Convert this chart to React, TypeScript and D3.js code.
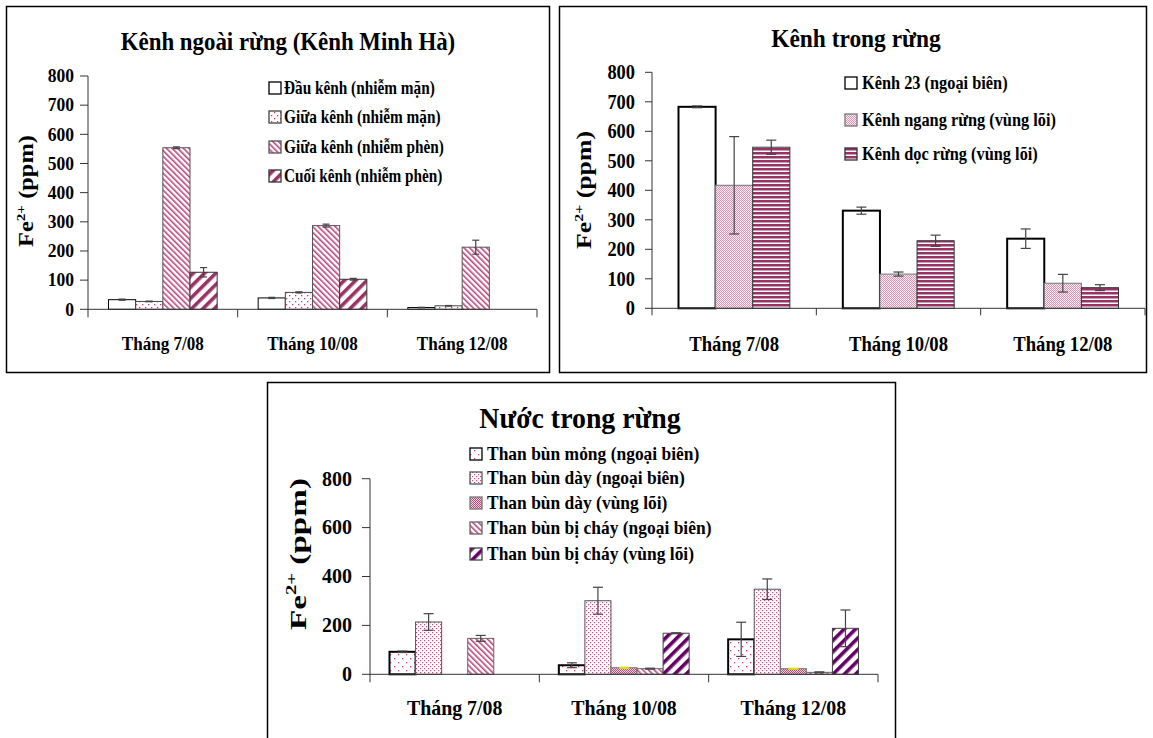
import React from "react";
import * as d3 from "d3";

const months = ["Tháng 7/08", "Tháng 10/08", "Tháng 12/08"];

// Kênh ngoài rừng (Kênh Minh Hà)
const ngoaiNames = [
  "Đầu kênh (nhiễm mặn)",
  "Giữa kênh (nhiễm mặn)",
  "Giữa kênh (nhiễm phèn)",
  "Cuối kênh (nhiễm phèn)",
];
const dauKenh = [33, 39, 6];
const dauKenhErr = [2, 2, 1];
const giuaKenhMan = [27, 58, 12];
const giuaKenhManErr = [1, 2, 1];
const giuaKenhPhen = [554, 287, 213];
const giuaKenhPhenErr = [3, 5, 24];
const cuoiKenh = [127, 103, null];
const cuoiKenhErr = [16, 3, 0];

// Kênh trong rừng
const trongNames = ["Kênh 23 (ngoại biên)", "Kênh ngang rừng (vùng lõi)", "Kênh dọc rừng (vùng lõi)"];
const kenh23 = [683, 331, 236];
const kenh23Err = [3, 12, 33];
const kenhNgang = [417, 116, 85];
const kenhNgangErr = [165, 7, 30];
const kenhDoc = [546, 229, 70];
const kenhDocErr = [24, 19, 10];

// Nước trong rừng
const nuocNames = [
  "Than bùn mỏng (ngoại biên)",
  "Than bùn dày (ngoại biên)",
  "Than bùn dày (vùng lõi)",
  "Than bùn bị cháy (ngoại biên)",
  "Than bùn bị cháy (vùng lõi)",
];
const bunMong = [92, 37, 143];
const bunMongErr = [3, 10, 70];
const bunDayNgoai = [214, 301, 348];
const bunDayNgoaiErr = [34, 55, 42];
const bunDayLoi = [null, 27, 23];
const bunDayLoiErr = [0, 2, 2];
const bunChayNgoai = [147, 23, 8];
const bunChayNgoaiErr = [12, 2, 2];
const bunChayLoi = [null, 168, 188];
const bunChayLoiErr = [0, 2, 75];

const FONT = "'Liberation Serif', 'Times New Roman', serif";

const panels = [
  {
    title: "Kênh ngoài rừng (Kênh Minh Hà)",
    box: [6.5, 6.5, 549.5, 372.5],
    L: {
      x0: 88, x1: 537, y0: 309.3, y1: 76, max: 800, nt: 8, pad: 20.5,
      tick: 8, lblGap: 6, tickFs: 18.5, tickSx: 0.95, catFs: 19, catSx: 0.9, catY: 350,
      titleX: 288, titleY: 50, titleFs: 26, titleSx: 0.88,
      legX: 269, legBox: 12, legTextX: 284, legRows: [88, 117, 147, 176], legFs: 18, legSx: 0.85,
      ylx: 33, yly: 191, ylFs: 20, ylLen: 112, cap: 3.5,
    },
    series: [
      { name: ngoaiNames[0], v: dauKenh, e: dauKenhErr, fill: "#fff", stroke: "#000", sw: 1 },
      { name: ngoaiNames[1], v: giuaKenhMan, e: giuaKenhManErr, fill: "url(#dotSparse)", stroke: "#444", sw: 1 },
      { name: ngoaiNames[2], v: giuaKenhPhen, e: giuaKenhPhenErr, fill: "url(#backThin)", stroke: "#555", sw: 1 },
      { name: ngoaiNames[3], v: cuoiKenh, e: cuoiKenhErr, fill: "url(#fwdMaroon)", stroke: "#333", sw: 1 },
    ],
  },
  {
    title: "Kênh trong rừng",
    box: [559.5, 6.5, 1146.5, 372.5],
    L: {
      x0: 652, x1: 1145, y0: 308.3, y1: 72.3, max: 800, nt: 8, pad: 26.5,
      tick: 7, lblGap: 10, tickFs: 20, tickSx: 0.92, catFs: 21, catSx: 0.89, catY: 350.5,
      titleX: 856, titleY: 47, titleFs: 26, titleSx: 0.9,
      legX: 845, legBox: 12, legTextX: 862, legRows: [83, 120, 154], legFs: 19, legSx: 0.86,
      ylx: 591, yly: 190, ylFs: 20, ylLen: 118, cap: 5,
    },
    series: [
      { name: trongNames[0], v: kenh23, e: kenh23Err, fill: "#fff", stroke: "#000", sw: 2 },
      { name: trongNames[1], v: kenhNgang, e: kenhNgangErr, fill: "url(#dotDense)", stroke: "#777", sw: 1 },
      { name: trongNames[2], v: kenhDoc, e: kenhDocErr, fill: "url(#hStripe)", stroke: "#333", sw: 1 },
    ],
  },
  {
    title: "Nước trong rừng",
    box: [267.5, 382.5, 895.5, 745],
    L: {
      x0: 370, x1: 878, y0: 674.3, y1: 478.7, max: 800, nt: 4, pad: 19.5,
      tick: 8, lblGap: 10, tickFs: 20, tickSx: 1, catFs: 20.5, catSx: 0.97, catY: 715,
      titleX: 580, titleY: 428, titleFs: 29, titleSx: 0.96,
      legX: 470, legBox: 12, legTextX: 487, legRows: [454, 478, 503, 528, 554], legFs: 18, legSx: 0.97,
      ylx: 306, yly: 554, ylFs: 24, ylLen: 152, cap: 5,
    },
    series: [
      { name: nuocNames[0], v: bunMong, e: bunMongErr, fill: "url(#dotMong)", stroke: "#000", sw: 2 },
      { name: nuocNames[1], v: bunDayNgoai, e: bunDayNgoaiErr, fill: "url(#dotMed)", stroke: "#555", sw: 1 },
      { name: nuocNames[2], v: bunDayLoi, e: bunDayLoiErr, fill: "url(#checker)", stroke: "#777", sw: 1, ec: "#e6e600" },
      { name: nuocNames[3], v: bunChayNgoai, e: bunChayNgoaiErr, fill: "url(#backThin)", stroke: "#666", sw: 1 },
      { name: nuocNames[4], v: bunChayLoi, e: bunChayLoiErr, fill: "url(#fwdPurple)", stroke: "#444", sw: 1 },
    ],
  },
];

function Txt({ x, y, fs, sx = 1, anchor = "start", ls = 0, children }: any) {
  return (
    <text
      transform={`translate(${x},${y}) scale(${sx},1)`}
      fontSize={fs}
      fontFamily={FONT}
      fontWeight="bold"
      textAnchor={anchor}
      letterSpacing={ls}
      fill="#000"
    >
      {children}
    </text>
  );
}

function Patterns() {
  return (
    <defs>
      <pattern id="dotSparse" width="6" height="6" patternUnits="userSpaceOnUse">
        <rect width="6" height="6" fill="#fff" />
        <rect x="1" y="1" width="1.3" height="1.3" fill="#c8407a" />
        <rect x="4" y="4" width="1.3" height="1.3" fill="#c8407a" />
      </pattern>
      <pattern id="dotMong" width="8" height="8" patternUnits="userSpaceOnUse">
        <rect width="8" height="8" fill="#fff" />
        <rect x="2" y="2" width="1.3" height="1.3" fill="#c8407a" />
        <rect x="6" y="6" width="1.3" height="1.3" fill="#c8407a" />
      </pattern>
      <pattern id="dotMed" width="4" height="4" patternUnits="userSpaceOnUse">
        <rect width="4" height="4" fill="#fff" />
        <rect x="0" y="0" width="1.2" height="1.2" fill="#cc4f86" />
        <rect x="2" y="2" width="1.2" height="1.2" fill="#cc4f86" />
      </pattern>
      <pattern id="dotDense" width="2" height="2" patternUnits="userSpaceOnUse">
        <rect width="2" height="2" fill="#fdf1f6" />
        <rect x="0" y="0" width="1" height="1" fill="#dd94b4" />
        <rect x="1" y="1" width="1" height="1" fill="#dd94b4" />
      </pattern>
      <pattern id="checker" width="2" height="2" patternUnits="userSpaceOnUse">
        <rect width="2" height="2" fill="#f2d3e0" />
        <rect x="0" y="0" width="1" height="1" fill="#b84c7e" />
        <rect x="1" y="1" width="1" height="1" fill="#b84c7e" />
      </pattern>
      <pattern id="backThin" width="4" height="4" patternUnits="userSpaceOnUse" patternTransform="rotate(-45)">
        <rect width="4" height="4" fill="#fff" />
        <rect x="0" y="0" width="1.6" height="4" fill="#b9477f" />
      </pattern>
      <pattern id="fwdMaroon" width="8" height="8" patternUnits="userSpaceOnUse" patternTransform="rotate(45)">
        <rect width="8" height="8" fill="#fff" />
        <rect x="0" y="0" width="3.6" height="8" fill="#993366" />
      </pattern>
      <pattern id="fwdPurple" width="8" height="8" patternUnits="userSpaceOnUse" patternTransform="rotate(45)">
        <rect width="8" height="8" fill="#fff" />
        <rect x="0" y="0" width="3.6" height="8" fill="#660066" />
      </pattern>
      <pattern id="hStripe" width="4" height="4" patternUnits="userSpaceOnUse">
        <rect width="4" height="4" fill="#fff" />
        <rect x="0" y="0" width="4" height="2.5" fill="#993366" />
      </pattern>
    </defs>
  );
}

function BarPanel({ p }: any) {
  const L = p.L;
  const x = d3.scaleBand().domain(months).range([L.x0, L.x1]);
  const inner = d3
    .scaleBand()
    .domain(p.series.map((s: any) => s.name))
    .range([L.pad, x.bandwidth() - L.pad]);
  const y = d3.scaleLinear().domain([0, L.max]).range([L.y0, L.y1]);
  const ticks = y.ticks(L.nt);
  const bounds = months.map((m) => x(m) as number).concat([L.x1]);
  const [bx0, by0, bx1, by1] = p.box;

  return (
    <g>
      <rect x={bx0} y={by0} width={bx1 - bx0} height={by1 - by0} fill="#fff" stroke="#000" strokeWidth={1.5} />
      <Txt x={L.titleX} y={L.titleY} fs={L.titleFs} sx={L.titleSx} anchor="middle">{p.title}</Txt>

      {/* bars */}
      {months.map((m, i) =>
        p.series.map((s: any) => {
          const v = s.v[i];
          if (v == null) return null;
          const bx = (x(m) as number) + (inner(s.name) as number);
          return (
            <rect
              key={m + s.name}
              x={bx}
              y={y(v)}
              width={inner.bandwidth()}
              height={L.y0 - y(v)}
              fill={s.fill}
              stroke={s.stroke}
              strokeWidth={s.sw}
            />
          );
        })
      )}

      {/* error bars */}
      {months.map((m, i) =>
        p.series.map((s: any) => {
          const v = s.v[i];
          const e = s.e[i];
          if (v == null || !e) return null;
          const cx = (x(m) as number) + (inner(s.name) as number) + inner.bandwidth() / 2;
          const col = s.ec || "#444";
          return (
            <g key={"e" + m + s.name} stroke={col} strokeWidth={1.2}>
              <line x1={cx} x2={cx} y1={y(v + e)} y2={y(Math.max(v - e, 0))} />
              <line x1={cx - L.cap} x2={cx + L.cap} y1={y(v + e)} y2={y(v + e)} />
              <line x1={cx - L.cap} x2={cx + L.cap} y1={y(Math.max(v - e, 0))} y2={y(Math.max(v - e, 0))} />
            </g>
          );
        })
      )}

      {/* axes */}
      <line x1={L.x0} x2={L.x0} y1={L.y1} y2={L.y0} stroke="#333" strokeWidth={1} />
      <line x1={L.x0} x2={L.x1} y1={L.y0} y2={L.y0} stroke="#333" strokeWidth={1} />
      {ticks.map((t: number) => (
        <g key={"t" + t}>
          <line x1={L.x0 - L.tick} x2={L.x0} y1={y(t)} y2={y(t)} stroke="#333" strokeWidth={1} />
          <Txt x={L.x0 - L.tick - L.lblGap} y={y(t) + L.tickFs * 0.34} fs={L.tickFs} sx={L.tickSx} anchor="end">
            {t}
          </Txt>
        </g>
      ))}
      {bounds.map((b, i) => (
        <line key={"c" + i} x1={b} x2={b} y1={L.y0} y2={L.y0 + L.tick} stroke="#333" strokeWidth={1} />
      ))}
      {months.map((m) => (
        <Txt key={"l" + m} x={(x(m) as number) + x.bandwidth() / 2} y={L.catY} fs={L.catFs} sx={L.catSx} anchor="middle">
          {m}
        </Txt>
      ))}

      {/* y label */}
      <text
        transform={`translate(${L.ylx},${L.yly}) rotate(-90)`}
        fontSize={L.ylFs}
        fontFamily={FONT}
        fontWeight="bold"
        textAnchor="middle"
        textLength={L.ylLen}
        lengthAdjust="spacingAndGlyphs"
      >
        Fe
        <tspan dy={-L.ylFs * 0.42} fontSize={L.ylFs * 0.62}>2+</tspan>
        <tspan dy={L.ylFs * 0.42}> (ppm)</tspan>
      </text>

      {/* legend */}
      {p.series.map((s: any, j: number) => {
        const cy = L.legRows[j];
        return (
          <g key={"lg" + s.name}>
            <rect
              x={L.legX}
              y={cy - L.legBox / 2}
              width={L.legBox}
              height={L.legBox}
              fill={s.fill}
              stroke={s.sw > 1 ? "#000" : s.stroke}
              strokeWidth={1.3}
            />
            <Txt x={L.legTextX} y={cy + L.legFs * 0.33} fs={L.legFs} sx={L.legSx}>
              {s.name}
            </Txt>
          </g>
        );
      })}
    </g>
  );
}

export default function App() {
  return (
    <svg
      width={1153}
      height={738}
      viewBox="0 0 1153 738"
      style={{ position: "absolute", left: 0, top: 0, background: "#fff" }}
    >
      <Patterns />
      <rect width={1153} height={738} fill="#fff" />
      {panels.map((p) => (
        <BarPanel key={p.title} p={p} />
      ))}
    </svg>
  );
}
